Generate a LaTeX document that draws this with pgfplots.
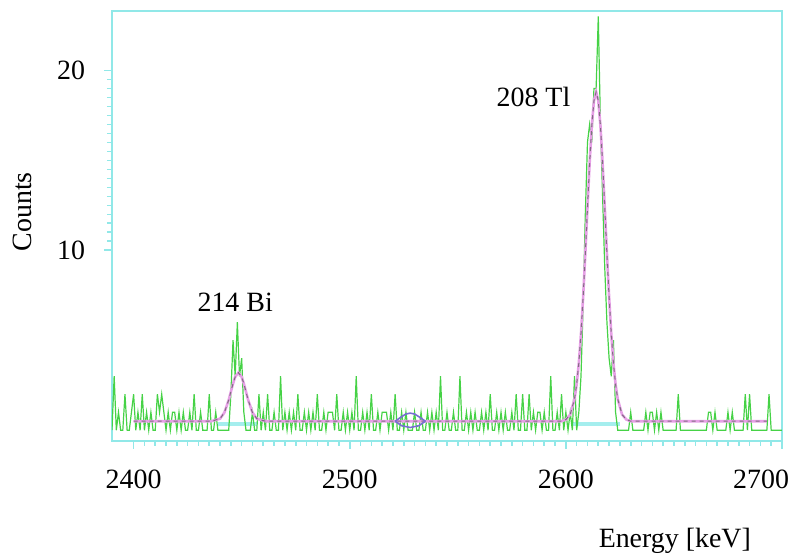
\documentclass[border=0pt]{standalone}
\usepackage{pgfplots}
\pgfplotsset{compat=1.18}
\usepackage{pgfplotstable}
\usepackage{fontspec}
\setmainfont{Liberation Serif}

\definecolor{framecyan}{RGB}{145,232,232}
\definecolor{datagreen}{RGB}{70,210,70}
\definecolor{fitpink}{RGB}{230,160,230}
\definecolor{fitgray}{RGB}{130,110,130}
\definecolor{bumpblue}{RGB}{120,110,210}
\definecolor{bgcyan}{RGB}{165,238,238}

% fitted curve: flat background + 214Bi and 208Tl peaks
\pgfplotstableread{
E     c
2400  0.50
2436  0.50
2440  0.64
2442  0.98
2444  1.68
2446  2.59
2447  2.96
2448.5 3.20
2450  2.96
2451  2.59
2453  1.68
2455  0.98
2457  0.64
2461  0.50
2598  0.50
2600  0.59
2602  0.87
2604  1.73
2605  2.55
2606  3.74
2607  5.37
2608  7.42
2609  9.81
2610  12.37
2611  14.85
2612  16.92
2613  18.31
2614  18.80
2615  18.31
2616  16.92
2617  14.85
2618  12.37
2619  9.81
2620  7.42
2621  5.37
2622  3.74
2623  2.55
2624  1.73
2626  0.87
2628  0.59
2630  0.50
2693  0.50
}\fitcurve

\begin{document}
\begin{tikzpicture}
\begin{axis}[
  name=main,
  scale only axis,
  width=335bp, height=215bp,
  xmin=2390, xmax=2700,
  ymin=-0.6, ymax=23.3,
  axis line style={framecyan, line width=1.2bp},
  tick style={framecyan, line width=0.8bp},
  tick align=outside,
  tick pos=left,
  major tick length=4bp,
  minor tick length=2.5bp,
  xtick={2400,2500,2600,2700},
  xticklabels={2400,2500,2600,\phantom{2}\llap{2700}},
  ytick={10,20},
  minor x tick num=19,
  minor y tick num=19,
  /pgf/number format/assume math mode=true,
  /pgf/number format/1000 sep={},
  tick label style={font=\fontsize{14}{16}\selectfont, black},
  xticklabel style={yshift=-7bp},
  yticklabel style={xshift=-6bp},
  label style={font=\fontsize{14}{16}\selectfont},
  xlabel={Energy [keV]},
  ylabel={Counts},
  xlabel style={at={(axis description cs:0.840,-0.2326)}, anchor=center},
  ylabel style={at={(axis description cs:-0.133,0.533)}, anchor=center},
  clip=true,
]
% background regions of the fit
\addplot[bgcyan, line width=1.6bp] coordinates {(2439,0.35) (2457,0.35)};
\addplot[bgcyan, line width=1.6bp] coordinates {(2603,0.35) (2625,0.35)};
% measured spectrum (1 keV bins)
\addplot[datagreen, line width=0.6bp] coordinates {
(2390,0) (2391,3) (2392,0) (2393,1) (2394,0) (2395,0) (2396,2) (2397,0) (2398,0)
(2399,1) (2400,2) (2401,0) (2402,1) (2403,0) (2404,2) (2405,0) (2406,1) (2407,0)
(2408,1) (2409,0) (2410,0) (2411,2) (2412,1) (2413,2) (2414,1) (2415,0) (2416,1)
(2417,0) (2418,1) (2419,1) (2420,0) (2421,1) (2422,0) (2423,1) (2424,0) (2425,0)
(2426,1) (2427,0) (2428,2) (2429,0) (2430,0) (2431,1) (2432,0) (2434,0) (2435,2)
(2436,0) (2437,0) (2438,1) (2439,0) (2444,0) (2445,2) (2446,5) (2447,3) (2448,6)
(2449,3) (2450,4) (2451,1) (2452,0) (2454,0) (2455,1) (2456,0) (2457,0) (2458,2)
(2459,0) (2460,1) (2461,0) (2462,2) (2463,0) (2464,0) (2465,1) (2466,0) (2467,0)
(2468,3) (2469,0) (2470,1) (2471,0) (2472,1) (2473,0) (2474,1) (2475,0) (2476,2)
(2477,0) (2478,0) (2479,1) (2480,0) (2481,1) (2482,0) (2483,1) (2484,0) (2485,2)
(2486,0) (2487,0) (2488,1) (2489,0) (2490,1) (2491,1) (2492,1) (2493,0) (2494,2)
(2495,0) (2496,0) (2497,1) (2498,0) (2499,1) (2500,0) (2501,1) (2502,0) (2503,3)
(2504,0) (2505,0) (2506,1) (2507,0) (2508,1) (2509,0) (2510,2) (2511,0) (2512,0)
(2513,1) (2514,0) (2515,1) (2516,1) (2517,1) (2518,0) (2519,1) (2520,0) (2521,2)
(2522,0) (2523,0) (2524,1) (2525,0) (2526,1) (2527,0) (2529,0) (2530,1) (2531,0)
(2532,0) (2533,1) (2534,0) (2535,0) (2536,1) (2537,0) (2538,1) (2539,0) (2540,1)
(2541,0) (2542,3) (2543,0) (2544,0) (2545,1) (2546,0) (2547,0) (2548,1) (2549,0)
(2550,0) (2551,3) (2552,0) (2553,0) (2554,1) (2555,0) (2556,1) (2557,0) (2558,1)
(2559,0) (2560,0) (2561,1) (2562,0) (2563,1) (2564,0) (2565,2) (2566,0) (2567,0)
(2568,1) (2569,0) (2570,1) (2571,0) (2572,1) (2573,0) (2574,0) (2575,1) (2576,0)
(2577,2) (2578,0) (2579,0) (2580,2) (2581,0) (2582,0) (2583,2) (2584,0) (2585,1)
(2586,0) (2587,1) (2588,1) (2589,0) (2590,1) (2591,0) (2592,0) (2593,3) (2594,0)
(2595,0) (2596,1) (2597,0) (2598,2) (2599,0) (2600,1) (2601,0) (2602,1) (2603,0)
(2604,3) (2605,0) (2606,1) (2607,3) (2608,7) (2609,12) (2610,16) (2611,17) (2612,16)
(2613,19) (2614,19) (2615,23) (2616,17) (2617,13) (2618,9) (2619,6) (2620,4)
(2621,3) (2622,5) (2623,1) (2624,0) (2629,0) (2630,1) (2631,0) (2636,0) (2637,1)
(2638,0) (2639,1) (2640,1) (2641,0) (2642,1) (2643,0) (2644,1) (2645,0) (2651,0)
(2652,2) (2653,0) (2665,0) (2666,1) (2667,1) (2668,0) (2669,1) (2670,0) (2674,0)
(2675,1) (2676,0) (2677,1) (2678,0) (2682,0) (2683,2) (2684,0) (2685,2) (2686,0)
(2693,0) (2694,2) (2695,0) (2700,0)
};
% fit
\addplot[fitpink, line width=1.3bp] table[x=E, y=c] {\fitcurve};
\addplot[fitgray, line width=0.5bp, dash pattern=on 2bp off 2bp] table[x=E, y=c] {\fitcurve};
% small structure near 2528 keV
\addplot[bumpblue, line width=0.8bp] coordinates {(2521,0.5) (2524,0.75) (2526,0.9) (2528,0.95) (2530,0.9) (2532,0.75) (2535,0.5)};
\addplot[bumpblue, line width=0.8bp] coordinates {(2521,0.5) (2524,0.25) (2528,0.15) (2532,0.25) (2535,0.5)};
\node[font=\fontsize{14}{16}\selectfont] at (axis cs:2447,7.1) {214 Bi};
\node[font=\fontsize{14}{16}\selectfont] at (axis cs:2585,18.5) {208 Tl};
\end{axis}
\pgfresetboundingbox
\path ([xshift=-56bp,yshift=-57bp]main.south west) rectangle ([xshift=5.5bp,yshift=5.5bp]main.north east);
\end{tikzpicture}
\end{document}
